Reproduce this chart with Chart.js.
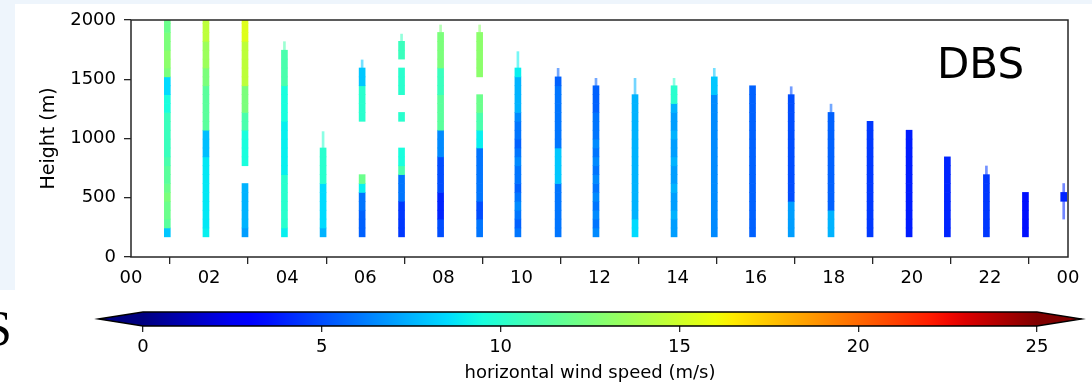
<!DOCTYPE html>
<html>
<head>
<meta charset="utf-8">
<script src="https://cdn.jsdelivr.net/npm/chart.js@4.4.1/dist/chart.umd.min.js"></script>
<style>
  html, body { margin: 0; padding: 0; }
  body { width: 1092px; height: 390px; position: relative; overflow: hidden; background: #fff; }
  .strip { position: absolute; background: #eef5fc; }
  #cut { position: absolute; left: -16px; top: 303px; font: 50px "Liberation Serif"; line-height: 1; color: #000; }
  canvas { position: absolute; left: 0; }
</style>
</head>
<body>
<div class="strip" style="left:0;top:0;width:1092px;height:4px"></div>
<div class="strip" style="left:0;top:0;width:15px;height:290px"></div>
<div id="cut">S</div>
<canvas id="main" width="1092" height="300" style="top:0"></canvas>
<canvas id="cbar" width="1092" height="90" style="top:300px"></canvas>
<script>
  // ── Data ──────────────────────────────────────────────────────────

  var _ = null;

  // scan times (decimal hours) of each profile
  var hourTimes = [0.93, 1.92, 2.92, 3.93, 4.92, 5.92, 6.93, 7.93, 8.93, 9.91, 10.94, 11.91,
                   12.91, 13.91, 14.94, 15.92, 16.91, 17.93, 18.93, 19.93, 20.91, 21.91, 22.91, 23.89];

  // range gates (m)
  var gateBase = [170, 245, 320, 395, 470, 545, 620, 695, 770, 845, 920, 995, 1070,
                  1145, 1220, 1295, 1370, 1445, 1520, 1595, 1670, 1745, 1820, 1895, 1970];
  var gateTop  = [245, 320, 395, 470, 545, 620, 695, 770, 845, 920, 995, 1070, 1145,
                  1220, 1295, 1370, 1445, 1520, 1595, 1670, 1745, 1820, 1895, 1970, 2000];

  // horizontal wind speed (m/s), one row per profile, lowest gate first
  var speedRows = [
    [8, 11.5, 12, 12, 12.5, 12, 11.5, 11.5, 11, 10.5, 10.5, 10.5, 10.5, 10.5, 9.5, 9.5, 8.5, 8.5, 12.5, 13, 13, 12.5, 12.5, 12, 12],
    [9, 8.8, 8.8, 8.8, 8.8, 8.8, 8.8, 8.8, 8.8, 7.8, 7.8, 7.8, 11.5, 11.5, 11.5, 11.5, 11.5, 12.5, 12.5, 13.5, 13.5, 13.5, 14.5, 14.5, 14.5],
    [7, 7.5, 7.5, 7.5, 7.5, 7.5, _, _, 9.5, 9.5, 9.5, 9.5, 11, 11, 12.5, 12.5, 12.5, 14.5, 14.5, 14.5, 14.5, 14.5, 15.5, 15.5, 15.5],
    [9, 10, 10, 10, 10, 10, 10, 9, 9, 9, 9, 9, 9, 9.5, 9.5, 9.5, 9.5, 11, 11, 11, 11, _, _, _, _],
    [7.5, 8.5, 8.5, 8.5, 8.5, 8.5, 10, 10, 10, 10, _, _, _, _, _, _, _, _, _, _, _, _, _, _, _],
    [5.5, 5.5, 5.5, 6, 6, 9, 12, _, _, _, _, _, _, 10, 10, 10, 10, 8, 8, _, _, _, _, _, _],
    [4.5, 4.5, 4.5, 4.5, 6, 6, 6, 11, 9.5, 9.5, _, _, _, 10, _, _, 10, 10, 10, _, 10.5, 10.5, _, _, _],
    [5, 5, 4, 4, 4, 5, 5, 5, 5, 6.5, 6.5, 6.5, 11.5, 11.5, 11.5, 11.5, 10.5, 10.5, 10.5, 12.5, 12.5, 12.5, 12.5, _, _],
    [6, 6, 5, 5, 6, 6, 6, 6, 6, 6, 9, 9, 11, 11, 12, 12, _, _, 13, 13, 13, 13, 13, _, _],
    [6, 5.5, 6, 6.5, 6, 5.5, 6, 6, 6.5, 6, 5.5, 6, 6, 6.5, 7.5, 7.5, 7.5, 7.5, 9, _, _, _, _, _, _],
    [6, 6, 6, 6, 6, 6, 8, 8, 8, 8, 6, 6, 6, 6, 6, 6, 6, 5.5, _, _, _, _, _, _, _],
    [6.5, 6, 6.5, 6, 6.5, 6, 6.5, 6, 6.5, 6, 6.5, 6, 6, 6, 5.5, 5.5, 5.5, _, _, _, _, _, _, _, _],
    [8.5, 8.5, 7.5, 7.5, 7.5, 7.5, 7.5, 7.5, 7.5, 7.5, 7.5, 7.5, 7.5, 7.5, 7.5, 7.5, _, _, _, _, _, _, _, _, _],
    [7, 7, 7.5, 7, 7, 7.5, 7, 7, 7.5, 7, 7, 7.5, 7, 7, 7.5, 10, 10, _, _, _, _, _, _, _, _],
    [6.5, 6.5, 6.5, 6.5, 6.5, 6.5, 6.5, 6.5, 6.5, 6.5, 6.5, 6.5, 6.5, 6.5, 6.5, 6.5, 8, 8, _, _, _, _, _, _, _],
    [5.5, 5.5, 5.5, 5.5, 5.5, 5.5, 5.5, 5.5, 5.5, 5.5, 5.5, 5.5, 5.5, 5.5, 5.5, 5.5, 5.5, _, _, _, _, _, _, _, _],
    [7, 7, 7, 7, 5, 5, 5, 5, 5, 5, 5, 5, 5, 5, 5, 5, _, _, _, _, _, _, _, _, _],
    [7.5, 7.5, 7.5, 5.5, 5.5, 5.5, 5.5, 5.5, 5.5, 5.5, 5.5, 5.5, 5.5, 5.5, _, _, _, _, _, _, _, _, _, _, _],
    [4.5, 4.5, 4.5, 4.5, 4.5, 4.5, 4.5, 4.5, 4.5, 4.5, 4.5, 4.5, 4.5, _, _, _, _, _, _, _, _, _, _, _, _],
    [3.8, 3.8, 3.8, 3.8, 3.8, 3.8, 3.8, 3.8, 3.8, 3.8, 3.8, 3.8, _, _, _, _, _, _, _, _, _, _, _, _, _],
    [4, 4, 4, 4, 4, 4, 4, 4, 4, _, _, _, _, _, _, _, _, _, _, _, _, _, _, _, _],
    [4.5, 4.5, 4.5, 4.5, 4.5, 4.5, 4.5, _, _, _, _, _, _, _, _, _, _, _, _, _, _, _, _, _, _],
    [3.5, 3.5, 3.5, 3.5, 3.5, _, _, _, _, _, _, _, _, _, _, _, _, _, _, _, _, _, _, _, _],
    [_, _, _, _, 4, _, _, _, _, _, _, _, _, _, _, _, _, _, _, _, _, _, _, _, _]
  ];

  // sparse (partial) returns above / around each profile (m)
  var thinLow  = [_, _, _, 1745, 920, 1595, 1820, 1895, 1895, 1595, 1520, 1445, 1370, 1445, 1520, _, 1370, 1220, _, _, _, 695, _, 320];
  var thinHigh = [_, _, _, 1817, 1058, 1663, 1881, 1958, 1958, 1733, 1592, 1508, 1508, 1508, 1592, _, 1437, 1290, _, _, _, 768, _, 620];

  var speedTicks = [0, 5, 10, 15, 20, 25];

  // ── Jet colormap ──────────────────────────────────────────────────

  var SPEED_MIN = 0, SPEED_MAX = 25;
  var JET_R = [[0, 0], [0.35, 0], [0.66, 1], [0.89, 1], [1, 0.5]];
  var JET_G = [[0, 0], [0.125, 0], [0.375, 1], [0.64, 1], [0.91, 0], [1, 0]];
  var JET_B = [[0, 0.5], [0.11, 1], [0.34, 1], [0.65, 0], [1, 0]];

  function lerpPts(pts, t) {
    for (var i = 1; i < pts.length; i++) {
      if (t <= pts[i][0]) {
        var a = pts[i - 1], b = pts[i];
        return a[1] + (b[1] - a[1]) * (t - a[0]) / (b[0] - a[0]);
      }
    }
    return pts[pts.length - 1][1];
  }

  function jet(v, alpha) {
    var t = Math.min(1, Math.max(0, (v - SPEED_MIN) / (SPEED_MAX - SPEED_MIN)));
    var r = Math.round(255 * lerpPts(JET_R, t));
    var g = Math.round(255 * lerpPts(JET_G, t));
    var b = Math.round(255 * lerpPts(JET_B, t));
    return 'rgba(' + r + ',' + g + ',' + b + ',' + (alpha === undefined ? 1 : alpha) + ')';
  }

  // ── Build bar cells ───────────────────────────────────────────────

  var cellData = [], cellColors = [];
  var tipData = [], tipColors = [];

  for (var i = 0; i < hourTimes.length; i++) {
    var row = speedRows[i];
    var topSpeed = null;
    for (var g = 0; g < gateBase.length; g++) {
      if (row[g] === null) continue;
      cellData.push({ x: hourTimes[i], y: [gateBase[g], gateTop[g]] });
      cellColors.push(jet(row[g]));
      topSpeed = row[g];
    }
    if (thinLow[i] !== null) {
      tipData.push({ x: hourTimes[i], y: [thinLow[i], thinHigh[i]] });
      tipColors.push(jet(topSpeed, 0.55));
    }
  }

  Chart.defaults.font.family = '"DejaVu Sans", sans-serif';
  Chart.defaults.color = '#000';

  var INK = '#262626';

  var framePlugin = {
    id: 'frame',
    afterDraw: function (chart) {
      var ca = chart.chartArea, ctx = chart.ctx;
      ctx.save();
      ctx.strokeStyle = INK;
      ctx.lineWidth = 1.5;
      ctx.strokeRect(ca.left, ca.top, ca.right - ca.left, ca.bottom - ca.top);
      ctx.fillStyle = '#000';
      ctx.font = '42px "DejaVu Sans"';
      ctx.textAlign = 'left';
      ctx.textBaseline = 'alphabetic';
      ctx.fillText('DBS', ca.right - 131, ca.top + 58);
      ctx.restore();
    }
  };

  new Chart(document.getElementById('main'), {
    type: 'bar',
    data: {
      datasets: [
        { data: cellData, backgroundColor: cellColors, barThickness: 6, grouped: false, borderWidth: 0 },
        { data: tipData, backgroundColor: tipColors, barThickness: 2, grouped: false, borderWidth: 0 }
      ]
    },
    options: {
      responsive: false,
      animation: false,
      devicePixelRatio: 1,
      layout: { padding: { top: 20, right: 24, left: 0, bottom: 0 } },
      plugins: { legend: { display: false }, tooltip: { enabled: false } },
      scales: {
        x: {
          type: 'linear', min: 0, max: 24, offset: false,
          ticks: {
            stepSize: 2, autoSkip: false, maxRotation: 0, padding: 4,
            font: { size: 18 },
            callback: function (v) { var h = v % 24; return (h < 10 ? '0' : '') + h; }
          },
          grid: { drawOnChartArea: false, color: INK, lineWidth: 1.3, tickLength: 7 },
          border: { display: false },
          afterFit: function (s) { s.height = 43; }
        },
        y: {
          min: 0, max: 2000,
          ticks: { stepSize: 500, padding: 8, font: { size: 18 }, callback: function (v) { return String(v); } },
          grid: { drawOnChartArea: false, color: INK, lineWidth: 1.3, tickLength: 7 },
          border: { display: false },
          title: { display: true, text: 'Height (m)', font: { size: 19 }, padding: { top: 38, bottom: 0 } },
          afterFit: function (s) { s.width = 131; }
        }
      }
    },
    plugins: [framePlugin]
  });

  // ── Colorbar ──────────────────────────────────────────────────────

  var colorbarPlugin = {
    id: 'colorbar',
    afterDraw: function (chart) {
      var ca = chart.chartArea, ctx = chart.ctx;
      var w = ca.right - ca.left, ext = 0.05 * w;
      var mid = (ca.top + ca.bottom) / 2;
      ctx.save();
      var grad = ctx.createLinearGradient(ca.left, 0, ca.right, 0);
      for (var k = 0; k <= 50; k++) {
        grad.addColorStop(k / 50, jet(SPEED_MIN + (SPEED_MAX - SPEED_MIN) * k / 50));
      }
      ctx.fillStyle = grad;
      ctx.fillRect(ca.left, ca.top, w, ca.bottom - ca.top);
      ctx.fillStyle = jet(SPEED_MIN);
      ctx.beginPath();
      ctx.moveTo(ca.left + 0.5, ca.top); ctx.lineTo(ca.left - ext, mid); ctx.lineTo(ca.left + 0.5, ca.bottom);
      ctx.closePath(); ctx.fill();
      ctx.fillStyle = jet(SPEED_MAX);
      ctx.beginPath();
      ctx.moveTo(ca.right - 0.5, ca.top); ctx.lineTo(ca.right + ext, mid); ctx.lineTo(ca.right - 0.5, ca.bottom);
      ctx.closePath(); ctx.fill();
      ctx.strokeStyle = '#000';
      ctx.lineWidth = 1.3;
      ctx.beginPath();
      ctx.moveTo(ca.left - ext, mid);
      ctx.lineTo(ca.left, ca.top); ctx.lineTo(ca.right, ca.top); ctx.lineTo(ca.right + ext, mid);
      ctx.lineTo(ca.right, ca.bottom); ctx.lineTo(ca.left, ca.bottom);
      ctx.closePath(); ctx.stroke();
      ctx.restore();
    }
  };

  new Chart(document.getElementById('cbar'), {
    type: 'scatter',
    data: { datasets: [{ data: [] }] },
    options: {
      responsive: false,
      animation: false,
      devicePixelRatio: 1,
      layout: { padding: { left: 143, right: 55, top: 12, bottom: 0 } },
      plugins: { legend: { display: false }, tooltip: { enabled: false } },
      scales: {
        x: {
          type: 'linear', min: SPEED_MIN, max: SPEED_MAX,
          afterBuildTicks: function (s) { s.ticks = speedTicks.map(function (v) { return { value: v }; }); },
          ticks: { padding: 5, font: { size: 18 } },
          grid: { drawOnChartArea: false, color: INK, lineWidth: 1.3, tickLength: 6 },
          border: { display: false },
          title: { display: true, text: 'horizontal wind speed (m/s)', font: { size: 18 }, padding: { top: 0, bottom: 6 } },
          afterFit: function (s) { s.height = 64; }
        },
        y: { display: false, min: 0, max: 1 }
      }
    },
    plugins: [colorbarPlugin]
  });
</script>
</body>
</html>
